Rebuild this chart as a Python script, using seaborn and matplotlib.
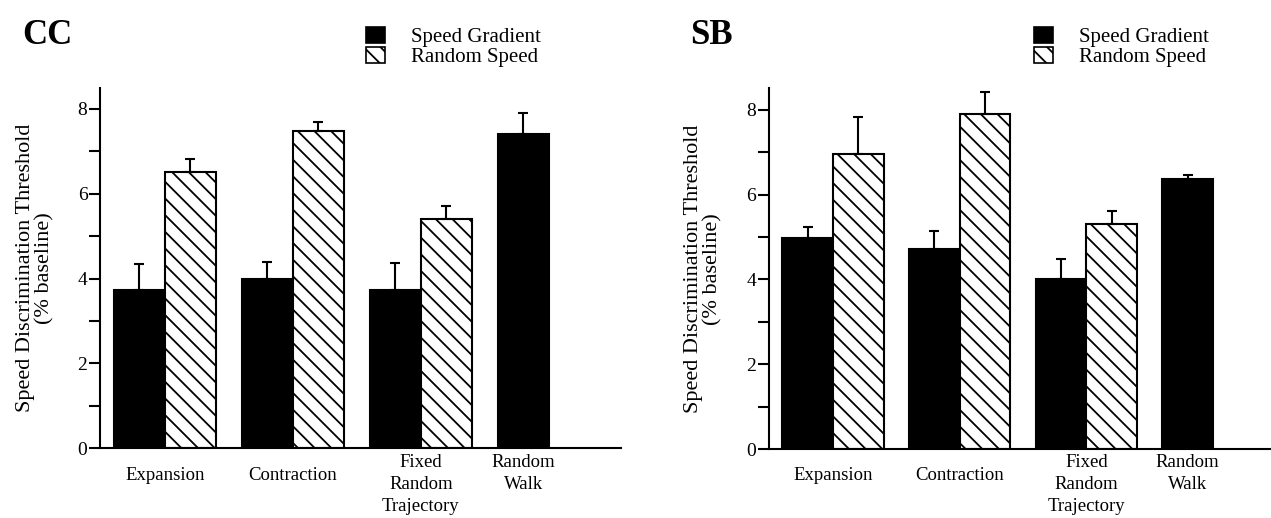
import numpy as np
import pandas as pd
import matplotlib
matplotlib.use("Agg")
import matplotlib.pyplot as plt
from matplotlib.patches import Patch
from matplotlib.ticker import MultipleLocator
import seaborn as sns

# ---------------- data ----------------
categories = ["Expansion", "Contraction", "Fixed\nRandom\nTrajectory", "Random\nWalk"]
conditions = ["Speed Gradient", "Random Speed"]
panel_titles = ["CC", "SB"]

cc_gradient = [3.73, 4.00, 3.74, 7.42]
cc_gradient_err = [0.61, 0.39, 0.62, 0.49]
cc_random = [6.52, 7.47, 5.41, np.nan]
cc_random_err = [0.30, 0.22, 0.30, np.nan]

sb_gradient = [4.97, 4.72, 4.01, 6.36]
sb_gradient_err = [0.27, 0.43, 0.47, 0.11]
sb_random = [6.96, 7.89, 5.30, np.nan]
sb_random_err = [0.86, 0.53, 0.31, np.nan]

y_ticks = [0, 2, 4, 6, 8]
y_label = "Speed Discrimination Threshold\n(% baseline)"

# ---------------- style ----------------
sns.set_style("ticks")
plt.rcParams["font.family"] = ["Liberation Serif", "DejaVu Serif"]
plt.rcParams["hatch.linewidth"] = 1.3
plt.rcParams["axes.linewidth"] = 1.5
for k in ["text.color", "axes.labelcolor", "xtick.color", "ytick.color",
          "axes.edgecolor", "hatch.color"]:
    plt.rcParams[k] = "black"

W, H = 1271, 518
fig = plt.figure(figsize=(W / 100, H / 100), dpi=100)


def px_axes(left, right, bottom, top):
    return fig.add_axes([left / W, 1 - bottom / H, (right - left) / W, (bottom - top) / H])


panels = [
    dict(title=panel_titles[0], g=cc_gradient, ge=cc_gradient_err, r=cc_random, re=cc_random_err,
         box=(100, 621, 448.3, 87.7), xlim=(-0.506, 3.564), title_x=22, leg_x=366,
         ylab_x=-0.088),
    dict(title=panel_titles[1], g=sb_gradient, ge=sb_gradient_err, r=sb_random, re=sb_random_err,
         box=(768.5, 1271, 449.3, 88.4), xlim=(-0.509, 3.457), title_x=690, leg_x=1034,
         ylab_x=-0.092),
]

for p in panels:
    ax = px_axes(*p["box"])
    df = pd.DataFrame({
        "category": categories * 2,
        "condition": [conditions[0]] * 4 + [conditions[1]] * 4,
        "value": list(p["g"]) + list(p["r"]),
        "err": list(p["ge"]) + list(p["re"]),
    })
    sns.barplot(data=df, x="category", y="value", hue="condition",
                order=categories, hue_order=conditions,
                palette={conditions[0]: "black", conditions[1]: "white"},
                edgecolor="black", linewidth=1.5, errorbar=None,
                width=0.8, legend=False, ax=ax)

    # patches in draw order: per hue level, categories with values
    rows = []
    for cond in conditions:
        sub = df[(df["condition"] == cond) & df["value"].notna()]
        rows.extend(sub.itertuples())
    bars = [b for b in ax.patches]
    xs, hs, es = [], [], []
    for b, row in zip(bars, rows):
        if row.condition == conditions[1]:
            b.set_hatch("\\\\")
        xs.append(b.get_x() + b.get_width() / 2)
        hs.append(b.get_height())
        es.append(row.err)
    ax.errorbar(xs, hs, yerr=[np.zeros(len(es)), es], fmt="none",
                ecolor="black", elinewidth=1.5, capsize=3.8, capthick=1.5, zorder=1)

    ax.set_xlim(*p["xlim"])
    ax.set_ylim(0, 8.5)
    ax.set_yticks(y_ticks)
    ax.set_yticklabels([str(t) for t in y_ticks], fontsize=14)
    ax.yaxis.set_minor_locator(MultipleLocator(1))
    ax.tick_params(axis="y", which="both", length=8, width=1.5, pad=1, direction="out")
    ax.tick_params(axis="x", length=0)
    ax.set_xticks(range(len(categories)))
    ax.set_xticklabels([])
    ax.set_xlabel("")
    ax.set_ylabel(y_label, fontsize=16, linespacing=1.0)
    ax.yaxis.set_label_coords(p["ylab_x"], 0.5)
    sns.despine(ax=ax)

    # category labels (Random Walk label centred on its single bar)
    rw_bar = [b for b, row in zip(bars, rows) if row.category == categories[3]][0]
    label_x = [0, 1, 2, rw_bar.get_x() + rw_bar.get_width() / 2]
    trans = ax.get_xaxis_transform()
    box_h = p["box"][2] - p["box"][3]
    for lx, cat in zip(label_x, categories):
        n = cat.count("\n") + 1
        if n == 1:
            ax.text(lx, -(476 - p["box"][2]) / box_h, cat, transform=trans,
                    ha="center", va="center", fontsize=13.5)
        else:
            ax.text(lx, -(454 - p["box"][2]) / box_h, cat, transform=trans,
                    ha="center", va="top", fontsize=13.5, linespacing=1.38)

    fig.text(p["title_x"] / W, 1 - 44 / H, p["title"], fontsize=25,
             fontweight="bold", va="baseline", ha="left")

    handles = [Patch(facecolor="black", edgecolor="black", linewidth=1.2),
               Patch(facecolor="white", edgecolor="black", hatch="\\\\", linewidth=1.2)]
    fig.legend(handles, conditions, loc="upper left",
               bbox_to_anchor=(p["leg_x"] / W, 1 - 27 / H), frameon=False,
               fontsize=15, handlelength=0.9, handleheight=0.8, handletextpad=1.25,
               labelspacing=-0.03, borderpad=0, borderaxespad=0)

fig.savefig("out.png", dpi=100)
